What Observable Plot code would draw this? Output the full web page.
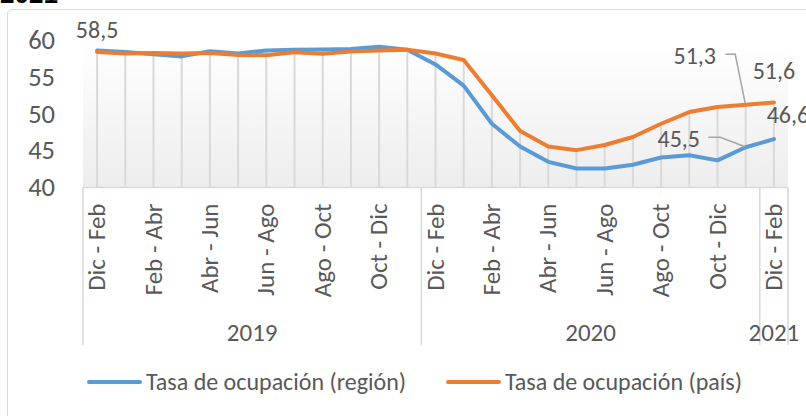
<!DOCTYPE html>
<html>
<head>
<meta charset="utf-8">
<script src="https://cdn.jsdelivr.net/npm/d3@7"></script>
<script src="https://cdn.jsdelivr.net/npm/@observablehq/plot@0.6"></script>
<style>
  html, body { margin: 0; padding: 0; background: #fff; }
  #wrap { position: relative; width: 806px; height: 416px; overflow: hidden; background: #fff;
          font-family: Carlito, Calibri, Lato, sans-serif; color: #595959; }
  #border { position: absolute; left: 7px; top: 9px; width: 830px; height: 440px;
            border: 1.5px solid #d9d9d9; border-radius: 5px; box-sizing: border-box; }
  #title { position: absolute; left: 0; top: -19px; font: bold 26px "Liberation Sans", Arial, sans-serif;
           color: #000; line-height: 26px; }
  #chart { position: absolute; left: 0; top: 0; }
  .leg { position: absolute; top: 368px; height: 28px; font-size: 24px; line-height: 28px; white-space: nowrap; }
  .sw { position: absolute; top: 12px; height: 4px; border-radius: 2px; }
</style>
</head>
<body>
<div id="wrap">
  <div id="border"></div>
  <div id="title">2021</div>
  <div id="chart"></div>
  <div class="leg" style="left:87px"><span class="sw" style="left:0;width:55px;background:#5b9bd5"></span><span style="position:absolute;left:59px">Tasa de ocupación (región)</span></div>
  <div class="leg" style="left:446px"><span class="sw" style="left:0;width:55px;background:#ed7d31"></span><span style="position:absolute;left:59px">Tasa de ocupación (país)</span></div>
</div>
<script>
// ---- data ----
const categories = [
  "Dic - Feb","Ene - Mar","Feb - Abr","Mar - May","Abr - Jun","May - Jul",
  "Jun - Ago","Jul - Sep","Ago - Oct","Sep - Nov","Oct - Dic","Nov - Ene",
  "Dic - Feb","Ene - Mar","Feb - Abr","Mar - May","Abr - Jun","May - Jul",
  "Jun - Ago","Jul - Sep","Ago - Oct","Sep - Nov","Oct - Dic","Nov - Ene",
  "Dic - Feb"
];
const years = ["2019", "2020", "2021"];
const yearFirst = [0, 12, 24];
const yearLast = [11, 23, 24];
const region = [58.7, 58.5, 58.2, 57.9, 58.6, 58.3, 58.7, 58.8, 58.85, 58.9, 59.2, 58.8,
                56.8, 53.9, 48.7, 45.6, 43.5, 42.6, 42.6, 43.1, 44.1, 44.4, 43.7, 45.5, 46.6];
const pais   = [58.5, 58.3, 58.35, 58.3, 58.35, 58.1, 58.05, 58.45, 58.25, 58.55, 58.7, 58.8,
                58.3, 57.4, 52.6, 47.7, 45.6, 45.1, 45.8, 46.9, 48.7, 50.3, 51.0, 51.3, 51.6];
const yTicks = [40, 45, 50, 55, 60];
const seriesNames = ["Tasa de ocupación (región)", "Tasa de ocupación (país)"];

const fmt = v => String(v.toFixed(1)).replace(".", ",");
const idx = d3.range(categories.length);
const shownIdx = idx.filter(i => i % 2 === 0);
const seps = [...yearFirst.map(f => f - 0.5), yearLast[yearLast.length - 1] + 0.5];
const yearCenters = years.map((y, k) => ({year: y, x: (yearFirst[k] + yearLast[k]) / 2}));

const BLUE = "#5b9bd5", ORANGE = "#ed7d31", GRID = "#d9d9d9", TXT = "#595959";
const FONT = "Carlito, Calibri, Lato, sans-serif";

const plot = Plot.plot({
  width: 806,
  height: 350,
  marginLeft: 82.5,
  marginRight: 18.5,
  marginTop: 40.5,
  marginBottom: 163,
  style: {fontFamily: FONT, fontSize: "26.5px", color: TXT, background: "transparent", overflow: "visible"},
  x: {domain: [-0.5, categories.length - 0.5], axis: null},
  y: {domain: [40, 60], ticks: yTicks, tickSize: 0, tickPadding: 28, label: null},
  marks: [
    Plot.frame({fill: "url(#bgGrad)", stroke: "none"}),
    // drop lines
    Plot.ruleX(idx, {x: d => d, y1: 40, y2: d => Math.max(region[d], pais[d]), stroke: GRID, strokeWidth: 2}),
    // axis line and category box
    Plot.ruleY([40], {stroke: GRID, strokeWidth: 1.5}),
    Plot.ruleX(seps, {stroke: GRID, strokeWidth: 1.5, insetTop: 146.5, insetBottom: -158}),
    // month labels
    Plot.text(shownIdx, {x: d => d, text: d => categories[d], frameAnchor: "bottom", dy: 16,
      rotate: -90, textAnchor: "end", lineAnchor: "middle", fontSize: 25, fill: TXT}),
    // year labels
    Plot.text(yearCenters, {x: "x", text: "year", frameAnchor: "bottom", dy: 145,
      lineAnchor: "middle", fontSize: 25, fill: TXT}),
    // series
    Plot.line(idx, {x: d => d, y: d => region[d], stroke: BLUE, strokeWidth: 4,
      strokeLinejoin: "round", strokeLinecap: "round"}),
    Plot.line(idx, {x: d => d, y: d => pais[d], stroke: ORANGE, strokeWidth: 4,
      strokeLinejoin: "round", strokeLinecap: "round"}),
    // data labels
    Plot.text([0], {x: d => d, y: d => pais[d], text: d => fmt(pais[d]), dy: -22, fontSize: 24, fill: TXT, lineAnchor: "middle"}),
    Plot.text([24], {x: d => d, y: d => pais[d], text: d => fmt(pais[d]), dy: -31, fontSize: 24, fill: TXT, lineAnchor: "middle"}),
    Plot.text([24], {x: d => d, y: d => region[d], text: d => fmt(region[d]), dx: 14, dy: -24, fontSize: 24, fill: TXT, lineAnchor: "middle"}),
    Plot.text([23], {x: d => d, y: d => pais[d], text: d => fmt(pais[d]), dx: -51, dy: -48, fontSize: 24, fill: TXT, lineAnchor: "middle"}),
    Plot.text([23], {x: d => d, y: d => region[d], text: d => fmt(region[d]), dx: -67, dy: -7.5, fontSize: 24, fill: TXT, lineAnchor: "middle"})
  ]
});

const svg = d3.select(plot);
const defs = svg.insert("defs", ":first-child");
const g = defs.append("linearGradient").attr("id", "bgGrad").attr("x1", 0).attr("y1", 0).attr("x2", 0).attr("y2", 1);
g.append("stop").attr("offset", "0%").attr("stop-color", "#ffffff");
g.append("stop").attr("offset", "100%").attr("stop-color", "#ededed");

// leader lines for the two callout labels
const sx = plot.scale("x").apply, sy = plot.scale("y").apply;
function leader(i, v, pts) {
  const px = sx(i), py = sy(v);
  svg.append("path")
    .attr("d", d3.line()(pts.map(([a, b]) => [px + a, py + b])))
    .attr("fill", "none").attr("stroke", "#a6a6a6").attr("stroke-width", 1.5);
}
leader(23, pais[23], [[-20, -50], [-10, -50], [0, -1]]);
leader(23, region[23], [[-37, -9.4], [-25, -9.4], [0, 0]]);

document.getElementById("chart").appendChild(plot);
</script>
</body>
</html>
